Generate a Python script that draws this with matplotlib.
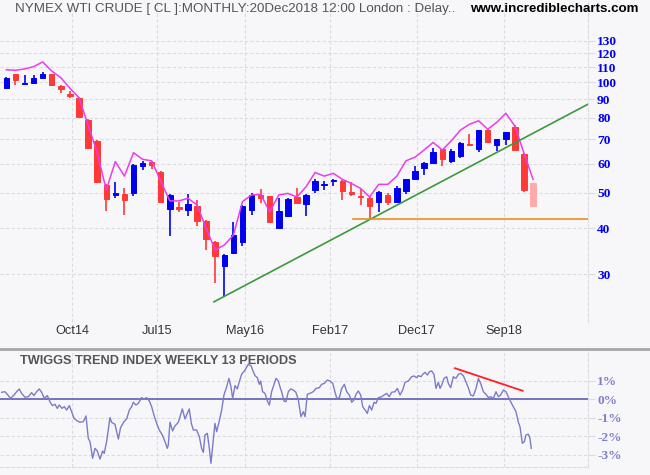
"""WTI crude monthly candles + Twiggs trend index (incrediblecharts style)."""
import matplotlib
matplotlib.use("Agg")
import matplotlib.pyplot as plt
import numpy as np
import pandas as pd
from matplotlib.patches import Rectangle
from matplotlib.lines import Line2D

plt.rcParams["font.family"] = ["Liberation Sans", "DejaVu Sans"]

# ---- data ----------------------------------------------------------------
months = pd.period_range("2014-02", "2018-12", freq="M")

opens = [96.7, 105.4, 99.3, 99.6, 102.8, 105.4, 97.8, 93.0, 90.7, 79.0,
         69.2, 52.5, 49.3, 49.6, 50.0, 59.3, 60.5, 57.0, 45.2, 45.6,
         44.9, 46.0, 41.9, 36.7, 31.5, 34.3, 36.8, 44.9, 49.2, 49.0,
         40.1, 43.3, 48.7, 46.6, 50.9, 52.6, 53.8, 53.8, 50.2, 49.1,
         48.5, 47.3, 49.3, 47.3, 50.6, 54.4, 58.5, 60.4, 65.8, 61.0,
         63.1, 67.7, 65.8, 74.1, 67.6, 69.9, 75.6, 63.8, 53.1]
highs = [103.3, 105.6, 104.8, 104.8, 106.8, 105.6, 98.2, 94.9, 91.2, 79.3,
         69.5, 52.8, 53.5, 51.4, 59.8, 61.0, 61.1, 57.2, 49.5, 47.3,
         49.6, 47.8, 42.1, 37.0, 34.0, 41.7, 46.2, 49.8, 51.2, 49.1,
         48.3, 48.3, 51.6, 49.5, 54.4, 53.8, 54.6, 54.2, 53.5, 51.3,
         48.7, 50.4, 49.8, 52.2, 54.6, 59.1, 60.5, 66.1, 66.0, 65.8,
         68.8, 72.4, 74.2, 74.8, 70.1, 73.3, 76.5, 64.0, 53.1]
lows = [96.5, 98.4, 99.2, 99.5, 102.6, 98.4, 93.7, 90.8, 80.4, 66.0,
        53.3, 44.7, 48.5, 43.5, 49.1, 57.7, 58.2, 47.1, 38.2, 44.2,
        43.3, 40.6, 34.9, 28.4, 26.1, 34.1, 35.8, 43.5, 46.8, 41.3,
        39.7, 42.9, 46.7, 43.3, 50.0, 50.9, 52.3, 47.8, 49.0, 46.4,
        42.3, 44.4, 46.3, 47.1, 49.5, 54.2, 55.9, 60.2, 59.3, 60.4,
        62.2, 67.0, 64.7, 68.2, 65.0, 67.5, 65.2, 50.2, 46.0]
closes = [102.6, 101.7, 99.7, 102.8, 105.4, 98.6, 96.1, 91.6, 80.6, 66.3,
          53.6, 48.2, 49.8, 47.8, 59.5, 60.4, 59.6, 47.3, 49.3, 45.1,
          46.6, 41.8, 37.3, 33.7, 33.8, 38.3, 46.0, 49.2, 48.5, 41.7,
          44.6, 48.1, 47.0, 49.3, 53.9, 52.9, 54.1, 50.6, 49.5, 48.6,
          46.0, 50.2, 47.3, 51.4, 54.4, 57.3, 60.3, 64.4, 61.8, 64.9,
          68.5, 67.3, 74.0, 68.9, 69.9, 73.1, 65.4, 50.9, 46.0]
# magenta overlay
band = [108.3, 107.9, 108.8, 110.4, 113.7, 107.4, 103.0, 96.4, 90.8, 76.5,
        64.4, 50.9, 60.8, 55.5, 64.3, 61.7, 61.1, 53.8, 47.5, 47.5,
        48.3, 46.3, 40.0, 34.9, 36.0, 38.3, 47.3, 49.3, 49.5, 44.4,
        49.3, 49.8, 48.7, 51.9, 56.8, 55.5, 56.5, 54.4, 53.0, 51.4,
        48.7, 52.7, 52.7, 55.5, 61.1, 62.5, 65.4, 68.6, 65.4, 69.3,
        74.1, 76.9, 78.6, 74.5, 77.8, 82.4, 76.0, 64.1, 54.4]

price_ticks = [30, 40, 50, 60, 70, 80, 90, 100, 110, 120, 130]
date_labels = ["Oct14", "Jul15", "May16", "Feb17", "Dec17", "Sep18"]

# trend lines (month index, price) and support level
trend_pts = [(22.86, 25.2), (64.05, 87.2)]
support = 42.3
support_from = 38.2

# Twiggs trend index (weekly), month index vs %
twiggs_t = [-0.52, -0.15, 0.10, 0.47, 0.84, 1.13, 1.42, 1.68, 2.05, 2.42,
            2.78, 3.04, 3.33, 3.63, 3.88, 4.18, 4.51, 4.80, 5.06, 5.35,
            5.61, 5.83, 6.12, 6.38, 6.64, 6.93, 7.19, 7.45, 7.81, 8.11,
            8.47, 8.77, 9.02, 9.21, 9.50, 9.76, 10.01, 10.31, 10.60, 10.78,
            11.04, 11.41, 11.59, 11.96, 12.33, 12.58, 12.95, 13.25, 13.54, 13.80,
            13.98, 14.27, 14.53, 14.90, 15.15, 15.45, 15.74, 16.00, 16.25, 16.55,
            16.84, 17.17, 17.47, 17.72, 17.83, 18.02, 18.31, 18.57, 18.94, 19.12,
            19.38, 19.67, 19.85, 20.14, 20.37, 20.59, 20.95, 21.25, 21.50, 21.69,
            21.87, 22.13, 22.35, 22.53, 22.79, 22.97, 23.16, 23.45, 23.71, 23.96,
            24.26, 24.51, 24.73, 24.92, 25.18, 25.43, 25.65, 25.91, 26.28, 26.64,
            26.94, 27.12, 27.38, 27.64, 27.86, 28.00, 28.22, 28.48, 28.74, 28.96,
            29.21, 29.47, 29.69, 29.95, 30.13, 30.31, 30.57, 30.79, 31.05, 31.31,
            31.60, 31.89, 32.15, 32.44, 32.70, 32.89, 33.14, 33.43, 33.80, 34.10,
            34.47, 34.72, 35.02, 35.35, 35.64, 35.94, 36.19, 36.38, 36.67, 36.93,
            37.22, 37.48, 37.77, 38.03, 38.28, 38.50, 38.76, 39.02, 39.24, 39.49,
            39.75, 39.97, 40.23, 40.49, 40.71, 40.96, 41.33, 41.59, 41.88, 42.17,
            42.43, 42.80, 43.06, 43.35, 43.64, 43.90, 44.27, 44.63, 44.89, 45.18,
            45.37, 45.66, 45.85, 46.11, 46.36, 46.58, 46.84, 47.09, 47.31, 47.57,
            47.76, 47.94, 48.20, 48.49, 48.67, 48.93, 49.22, 49.51, 49.77, 50.03,
            50.32, 50.62, 50.87, 51.13, 51.42, 51.72, 51.98, 52.23, 52.53, 52.82,
            53.08, 53.33, 53.63, 53.92, 54.18, 54.43, 54.73, 55.02, 55.28, 55.53,
            55.83, 56.12, 56.38, 56.56, 56.82, 57.04, 57.22, 57.48, 57.66, 57.80]
twiggs_v = [0.38, 0.41, 0.27, 0.05, 0.23, 0.41, 0.56, 0.32, 0.11, 0.14,
            0.36, 0.20, 0.41, 0.56, 0.38, 0.05, 0.20, -0.13, -0.34, -0.27,
            -0.49, -0.31, -0.49, -0.40, -0.58, -0.34, -0.67, -1.03, -1.17, -1.24,
            -1.21, -0.90, -2.11, -2.29, -3.19, -2.65, -2.79, -3.23, -2.79, -2.92,
            -2.29, -0.99, -1.24, -1.35, -2.15, -1.53, -1.21, -1.06, -0.58, -0.40,
            -0.16, -0.31, -0.22, 0.09, 0.02, 0.09, -0.09, -0.40, -0.85, -1.30,
            -1.66, -1.93, -2.29, -2.65, -2.47, -1.24, -1.71, -1.44, -1.24, -0.94,
            -0.52, -1.06, -0.85, -0.52, -1.30, -1.66, -1.66, -2.02, -2.65, -2.87,
            -1.93, -1.84, -2.65, -3.46, -2.20, -1.30, -1.75, -1.17, -0.58, 0.23,
            0.68, 1.13, 0.68, 0.05, 0.74, 0.56, 0.95, 1.35, 1.58, 1.89,
            1.82, 1.58, 1.28, 1.17, 0.81, 0.99, 0.41, 0.32, -0.09, -0.31,
            0.41, 0.81, 1.13, 0.99, 0.68, 0.41, -0.09, -0.13, 0.41, 0.56,
            0.50, 0.38, -0.04, -0.94, -0.67, -0.94, 0.27, 0.32, 0.41, 0.59,
            0.63, 0.81, 0.86, 1.04, 0.99, 0.86, 0.41, 0.05, 0.09, 0.59,
            0.81, 0.41, 0.23, -0.16, -0.04, 0.27, 0.45, 0.23, -0.40, -0.58,
            -0.76, -0.34, -0.58, -0.16, -0.22, 0.09, 0.14, 0.23, 0.32, 0.14,
            0.38, 0.41, 0.59, 0.23, 0.50, 0.92, 0.99, 1.22, 1.26, 1.17,
            1.28, 1.22, 1.35, 1.46, 1.31, 1.49, 1.53, 1.35, 0.59, 0.92,
            0.59, 0.77, 1.13, 1.22, 0.86, 0.63, 1.22, 1.13, 1.35, 1.40,
            1.28, 0.92, 0.63, 0.23, 0.18, 0.59, 1.13, 0.86, 0.41, 0.27,
            0.09, 0.14, 0.05, 0.41, 0.14, 0.23, 0.50, 0.41, 0.14, -0.13,
            -0.40, -0.67, -1.24, -1.48, -2.38, -2.29, -1.93, -1.89, -2.11, -2.65]
twiggs_ticks = [1, 0, -1, -2, -3]
divergence = [(49.4, 1.68), (56.86, 0.46)]

# ---- style --------------------------------------------------------------
BG = "#f7f7fa"
GRID = "#dcdce0"
UP, DOWN, PALE = "#0000f0", "#ff3838", "#ffaaaa"
MAG = "#ec3cec"
W, H = 650, 475
TICK_X = [7.22, 16.58, 26.28, 35.63, 45.19, 54.8]   # grid positions (month index)
XLIM = (-0.7, 64.05)
BW = 0.6

fig = plt.figure(figsize=(6.5, 4.75), dpi=100, facecolor=BG)
ax = fig.add_axes([0, 1 - 322 / H, 588 / W, 322 / H], facecolor=BG)
ax2 = fig.add_axes([0, 8 / H, 588 / W, 117 / H], facecolor=BG)


def frame(a):
    for s in ("top", "left", "bottom"):
        a.spines[s].set_visible(False)
    a.spines["right"].set_color(GRID)
    a.spines["right"].set_linestyle((0, (3, 2)))
    a.set_xlim(*XLIM)
    a.set_xticks(TICK_X)
    a.grid(True, color=GRID, ls=(0, (3, 2)), lw=0.8)
    a.set_axisbelow(True)
    a.yaxis.tick_right()
    a.tick_params(axis="y", length=5, color=GRID, pad=1.5, labelsize=9.6)


# ---- price panel ----------------------------------------------------------
frame(ax)
x = np.arange(len(months))
last = len(months) - 1
for i in x:
    o, hi, lo, c = opens[i], highs[i], lows[i], closes[i]
    col = PALE if i == last else (UP if c >= o else DOWN)
    ax.vlines(i, lo, hi, color=col, lw=1.2, zorder=3)
    b0, b1 = min(o, c), max(o, c)
    ax.add_patch(Rectangle((i - BW / 2, b0), BW, b1 - b0, fc=col, ec=col,
                           lw=0.7, zorder=4))
ax.plot(x, band, color=MAG, lw=1.1, zorder=5)

(t0, p0), (t1, p1) = trend_pts
ax.plot([t0, t1], [p0, p1], color="#3a9a3a", lw=1.2, zorder=5)
ax.plot([support_from, XLIM[1]], [support, support], color="#e8901e", lw=1.2, zorder=5)

ax.set_yscale("log")
ax.set_ylim(22.2, 167.8)
ax.set_yticks(price_ticks)
ax.set_yticklabels([str(v) for v in price_ticks])
ax.yaxis.set_minor_locator(matplotlib.ticker.NullLocator())
for lbl in ax.get_yticklabels():
    lbl.set_fontfamily("Liberation Serif")
    lbl.set_fontweight("bold")
    lbl.set_color(UP)
ax.set_xticklabels(date_labels)
ax.tick_params(axis="x", length=0, pad=2, labelsize=9.2, labelcolor="#333333")

# ---- Twiggs panel ---------------------------------------------------------
frame(ax2)
ax2.spines["bottom"].set_visible(True)
ax2.spines["bottom"].set_color(GRID)
ax2.spines["bottom"].set_linestyle((0, (3, 2)))
ax2.plot(twiggs_t, twiggs_v, color="#7b7bc8", lw=1.0, zorder=4)
ax2.axhline(0, color="#6060b8", lw=1.2, zorder=3)
(d0, v0), (d1, v1) = divergence
ax2.plot([d0, d1], [v0, v1], color="#ff2020", lw=1.3, zorder=5)
ax2.set_ylim(-3.66, 2.665)
ax2.set_yticks(twiggs_ticks)
ax2.set_yticklabels([f"{v}%" for v in twiggs_ticks])
ax2.set_xticklabels([])
ax2.tick_params(axis="x", length=0)
for lbl in ax2.get_yticklabels():
    lbl.set_fontfamily("Liberation Serif")
    lbl.set_fontweight("bold")
    lbl.set_color("#8080c8")

# ---- texts + separator ----------------------------------------------------
fig.add_artist(Line2D([0, 1], [1 - 349 / H] * 2, transform=fig.transFigure,
                      color="#a8a8a8", lw=2))
fig.text(15 / W, 1 - 9 / H, "NYMEX WTI CRUDE [ CL ]:MONTHLY:20Dec2018 12:00 London : Delay..",
         ha="left", va="center", fontsize=9.6, color="#555555")
fig.text(639 / W, 1 - 9 / H, "www.incrediblecharts.com", ha="right", va="center",
         fontsize=9.6, fontweight="bold", color="black")
fig.text(20 / W, 1 - 361.5 / H, "TWIGGS TREND INDEX WEEKLY 13 PERIODS",
         ha="left", va="center", fontsize=9.2, fontweight="bold", color="#555555")

fig.savefig("out.png", dpi=100, facecolor=BG)
